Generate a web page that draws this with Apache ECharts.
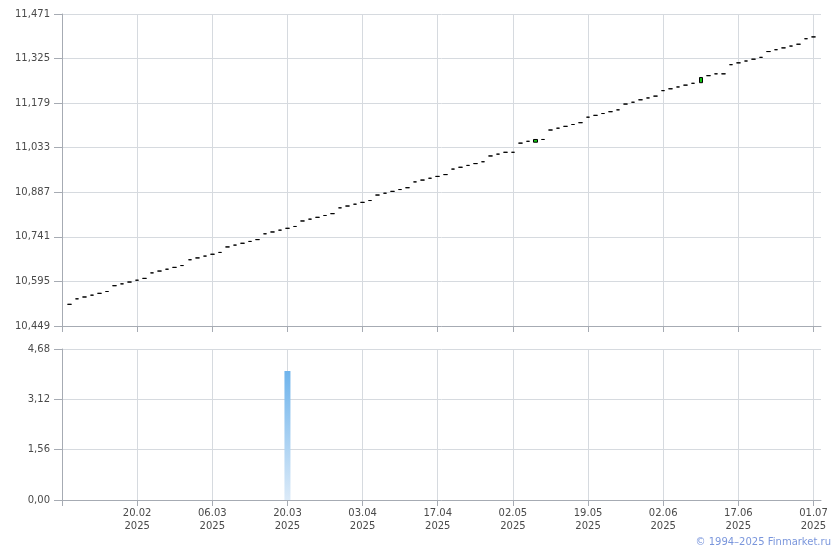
<!DOCTYPE html>
<html><head><meta charset="utf-8">
<script src="https://cdn.jsdelivr.net/npm/echarts@6/dist/echarts.min.js"></script>
<style>html,body{margin:0;padding:0;background:#fff}#c{width:840px;height:550px}</style>
</head><body><div id="c"></div>
<script>
const year = '2025';
const dates = ['07.02','10.02','11.02','12.02','13.02','14.02','17.02','18.02','19.02','20.02',
'21.02','24.02','25.02','26.02','27.02','28.02','03.03','04.03','05.03','06.03',
'07.03','10.03','11.03','12.03','13.03','14.03','17.03','18.03','19.03','20.03',
'21.03','24.03','25.03','26.03','27.03','28.03','31.03','01.04','02.04','03.04',
'04.04','07.04','08.04','09.04','10.04','11.04','14.04','15.04','16.04','17.04',
'18.04','21.04','22.04','23.04','24.04','25.04','28.04','29.04','30.04','02.05',
'05.05','06.05','07.05','08.05','12.05','13.05','14.05','15.05','16.05','19.05',
'20.05','21.05','22.05','23.05','26.05','27.05','28.05','29.05','30.05','02.06',
'03.06','04.06','05.06','06.06','09.06','10.06','11.06','13.06','16.06','17.06',
'18.06','19.06','20.06','23.06','24.06','25.06','26.06','27.06','30.06','01.07'];
const closes = [10.520,10.538,10.544,10.550,10.556,10.562,10.581,10.587,10.593,10.599,
10.605,10.623,10.629,10.635,10.641,10.647,10.666,10.672,10.678,10.684,
10.690,10.708,10.714,10.720,10.726,10.732,10.751,10.757,10.763,10.769,
10.775,10.793,10.799,10.805,10.811,10.817,10.836,10.842,10.848,10.854,
10.860,10.878,10.884,10.890,10.896,10.902,10.921,10.927,10.933,10.939,
10.945,10.963,10.969,10.975,10.981,10.987,11.006,11.012,11.018,11.018,
11.048,11.054,11.060,11.060,11.091,11.097,11.103,11.109,11.115,11.133,
11.139,11.145,11.151,11.157,11.176,11.182,11.190,11.196,11.202,11.220,
11.226,11.232,11.238,11.244,11.263,11.269,11.275,11.275,11.305,11.311,
11.317,11.323,11.329,11.348,11.354,11.360,11.366,11.372,11.390,11.396];
// days whose open differs from close (visible body)
const bodyOpens = {'07.05': 11.051, '09.06': 11.246};
const volumes = [0,0,0,0,0,0,0,0,0,0, 0,0,0,0,0,0,0,0,0,0, 0,0,0,0,0,0,0,0,0,4.0,
0,0,0,0,0,0,0,0,0,0, 0,0,0,0,0,0,0,0,0,0, 0,0,0,0,0,0,0,0,0,0,
0,0,0,0,0,0,0,0,0,0, 0,0,0,0,0,0,0,0,0,0, 0,0,0,0,0,0,0,0,0,0, 0,0,0,0,0,0,0,0,0,0];
const priceAxis = {min: 10.449, max: 11.471, step: 0.146};
const volumeAxis = {min: 0, max: 4.68, step: 1.56};

const gridColor = '#d6dadf', axisColor = '#a6abb3', labelColor = '#4a4a4a';
const font = 'DejaVu Sans';
const cats = [''].concat(dates).concat(['']);
const empty = ['-','-','-','-'];
const candles = [empty].concat(dates.map((d, i) => {
  const c = closes[i];
  const o = (d in bodyOpens) ? bodyOpens[d] : c;
  return [o, c, Math.min(o, c), Math.max(o, c)];
})).concat([empty]);
const vols = ['-'].concat(volumes).concat(['-']);

function xAx(gi, showLabel) {
  return {
    gridIndex: gi, type: 'category', data: cats, boundaryGap: false,
    axisLine: {show: true, lineStyle: {color: axisColor}},
    axisTick: {show: true, interval: 9, length: 6, lineStyle: {color: axisColor}},
    splitLine: {show: true, interval: 9, lineStyle: {color: gridColor}},
    axisLabel: {show: showLabel, interval: 9, margin: 7, color: labelColor, fontSize: 10, fontFamily: font,
      lineHeight: 13, formatter: v => v ? v + '\n' + year : ''}
  };
}
function yAx(gi, a, dec) {
  return {
    gridIndex: gi, type: 'value', min: a.min, max: a.max, interval: a.step,
    axisLine: {show: true, lineStyle: {color: axisColor}},
    axisTick: {show: true, length: 8, lineStyle: {color: axisColor}},
    splitLine: {show: true, lineStyle: {color: gridColor}},
    axisLabel: {margin: 12, color: labelColor, fontSize: 10, fontFamily: font,
      formatter: v => v.toFixed(dec).replace('.', ',')}
  };
}
const chart = echarts.init(document.getElementById('c'), null, {renderer: 'canvas'});
chart.setOption({
  animation: false,
  backgroundColor: '#fff',
  grid: [{left: 62, right: 19, top: 14, height: 312}, {left: 62, right: 19, top: 349, height: 151}],
  xAxis: [xAx(0, false), xAx(1, true)],
  yAxis: [yAx(0, priceAxis, 3), yAx(1, volumeAxis, 2)],
  series: [
    {type: 'candlestick', xAxisIndex: 0, yAxisIndex: 0, data: candles, barWidth: 4,
     itemStyle: {color: '#13c313', color0: '#13c313', borderColor: '#000', borderColor0: '#000', borderColorDoji: '#000', borderWidth: 1}},
    {type: 'bar', xAxisIndex: 1, yAxisIndex: 1, data: vols, barWidth: 6,
     itemStyle: {color: new echarts.graphic.LinearGradient(0, 0, 0, 1, [{offset: 0, color: '#6fb4ec'}, {offset: 1, color: '#dbeaf8'}])}}
  ],
  graphic: [{type: 'text', right: 9, top: 537, style: {text: '© 1994–2025 Finmarket.ru', fill: '#7a96dc', font: '10px "DejaVu Sans"'}}]
});
</script></body></html>
